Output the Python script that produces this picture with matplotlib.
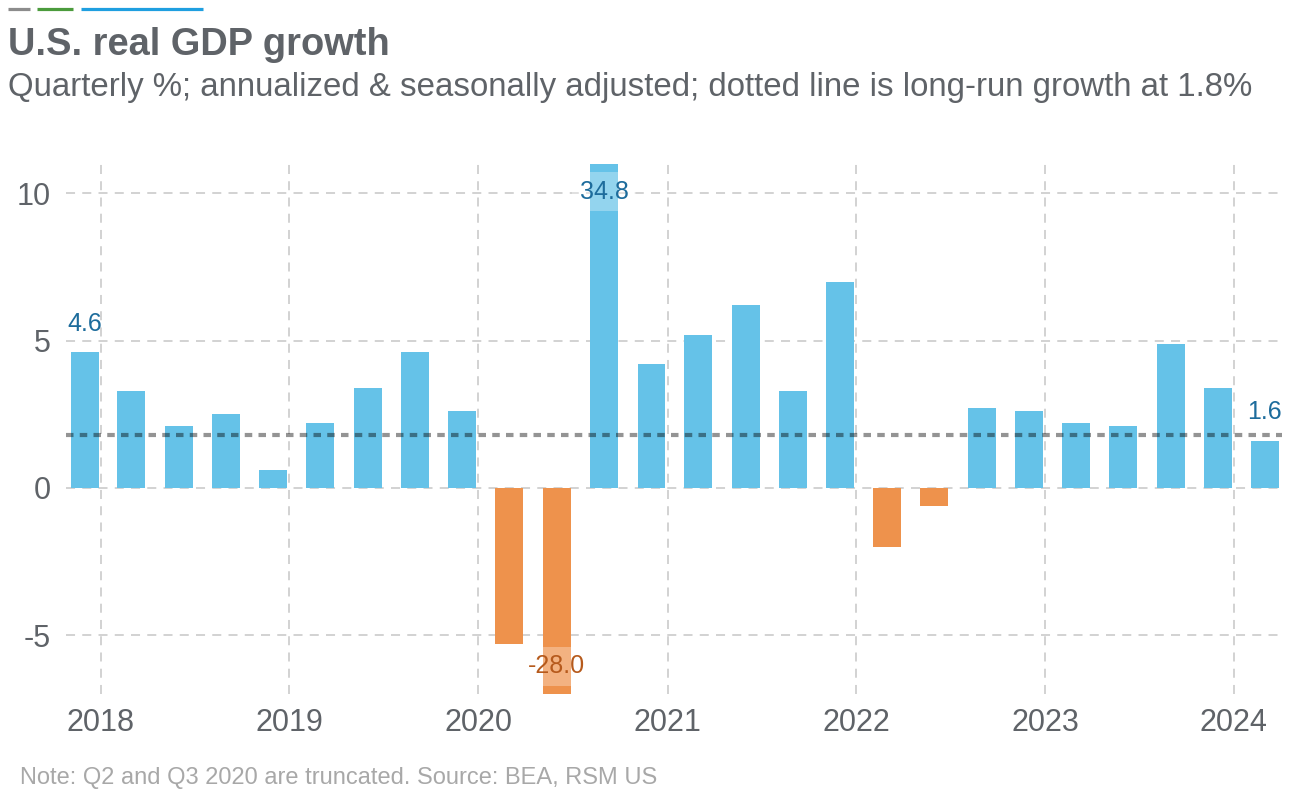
import matplotlib
matplotlib.use("Agg")
import matplotlib.pyplot as plt
from matplotlib.lines import Line2D
import pandas as pd

# ---- data ----
quarters = ["2017Q4",
            "2018Q1", "2018Q2", "2018Q3", "2018Q4",
            "2019Q1", "2019Q2", "2019Q3", "2019Q4",
            "2020Q1", "2020Q2", "2020Q3", "2020Q4",
            "2021Q1", "2021Q2", "2021Q3", "2021Q4",
            "2022Q1", "2022Q2", "2022Q3", "2022Q4",
            "2023Q1", "2023Q2", "2023Q3", "2023Q4",
            "2024Q1"]
growth = [4.6,
          3.3, 2.1, 2.5, 0.6,
          2.2, 3.4, 4.6, 2.6,
          -5.3, -28.0, 34.8, 4.2,
          5.2, 6.2, 3.3, 7.0,
          -2.0, -0.6, 2.7, 2.6,
          2.2, 2.1, 4.9, 3.4,
          1.6]
long_run = 1.8
labeled_quarters = ["2017Q4", "2020Q2", "2020Q3", "2024Q1"]
year_ticks = ["2018", "2019", "2020", "2021", "2022", "2023", "2024"]
y_ticks = [-5, 0, 5, 10]
y_limits = (-7.0, 11.0)

# ---- style ----
BLUE = "#65c2e8"
ORANGE = "#ee924c"
LABEL_BLUE = "#1d6c9c"
LABEL_ORANGE = "#b65a1c"
GRAY_TXT = "#5f6368"
GRID = "#cfcfcf"
FONT = ["Liberation Sans", "DejaVu Sans"]
plt.rcParams["font.family"] = FONT

# bar dates: first day of the last month in each quarter
per = pd.PeriodIndex(quarters, freq="Q")
dates = per.asfreq("M", how="end").to_timestamp()

fig = plt.figure(figsize=(12.89, 7.96), dpi=100)
ax = fig.add_axes([66/1289, 1-694/796, (1282-66)/1289, (694-164)/796])

colors = [BLUE if v >= 0 else ORANGE for v in growth]
ax.bar(dates, growth, width=54, color=colors, zorder=2, linewidth=0)

ax.axhline(long_run, color="black", alpha=0.42, linewidth=3.0,
           dashes=(1.8, 1.5), zorder=3)

ax.set_ylim(*y_limits)
ax.set_xlim(pd.Timestamp("2017-10-26"), pd.Timestamp("2024-04-03"))
ax.set_yticks(y_ticks)
ax.set_yticklabels([str(t) for t in y_ticks])
ax.set_xticks([pd.Timestamp(y + "-01-01") for y in year_ticks])
ax.set_xticklabels(year_ticks)
ax.tick_params(axis="both", length=0, labelsize=22, colors=GRAY_TXT)
ax.tick_params(axis="y", pad=11)
ax.tick_params(axis="x", pad=10)
for s in ax.spines.values():
    s.set_visible(False)
ax.grid(True, color=GRID, linestyle=(0, (5, 4)), linewidth=1.3, zorder=0)
ax.set_axisbelow(True)
for gl in ax.get_xgridlines():
    gl.set_clip_on(False)

# value labels
for q, d, v in zip(quarters, dates, growth):
    if q not in labeled_quarters:
        continue
    col = LABEL_BLUE if v >= 0 else LABEL_ORANGE
    txt = f"{v:.1f}"
    if v > y_limits[1]:
        ax.annotate(txt, xy=(d, y_limits[1]), xytext=(0, -20), textcoords="offset points",
                    ha="center", va="center", fontsize=18, color=col, zorder=4,
                    bbox=dict(boxstyle="square,pad=0.3", fc="white", ec="none", alpha=0.3))
    elif v < y_limits[0]:
        ax.annotate(txt, xy=(d, y_limits[0]), xytext=(0, 20), textcoords="offset points",
                    ha="center", va="center", fontsize=18, color=col, zorder=4,
                    bbox=dict(boxstyle="square,pad=0.3", fc="white", ec="none", alpha=0.3))
    else:
        ax.annotate(txt, xy=(d, v), xytext=(0, 12), textcoords="offset points",
                    ha="center", va="bottom", fontsize=18, color=col, zorder=4)

# top decoration
W, H = 1289, 796
for x0, x1, c in [(8, 30, "#8c8c8c"), (37, 73, "#4b9b3c"), (81, 203, "#1f9fe0")]:
    fig.add_artist(Line2D([x0/W, x1/W], [1-9/H, 1-9/H], color=c, linewidth=2.3,
                          solid_capstyle="butt", transform=fig.transFigure))

fig.text(8/W, 1-55/H, "U.S. real GDP growth", fontsize=27.4, fontweight="bold",
         color=GRAY_TXT, va="baseline", ha="left")
fig.text(8/W, 1-96/H, "Quarterly %; annualized & seasonally adjusted; dotted line is long-run growth at 1.8%",
         fontsize=23.8, color=GRAY_TXT, va="baseline", ha="left")
fig.text(20/W, 1-784/H, "Note: Q2 and Q3 2020 are truncated. Source: BEA, RSM US",
         fontsize=17, color="#a8a8a8", va="baseline", ha="left",
         family=["Liberation Sans Narrow", "Liberation Sans", "DejaVu Sans"])

fig.savefig("out.png", dpi=100)
